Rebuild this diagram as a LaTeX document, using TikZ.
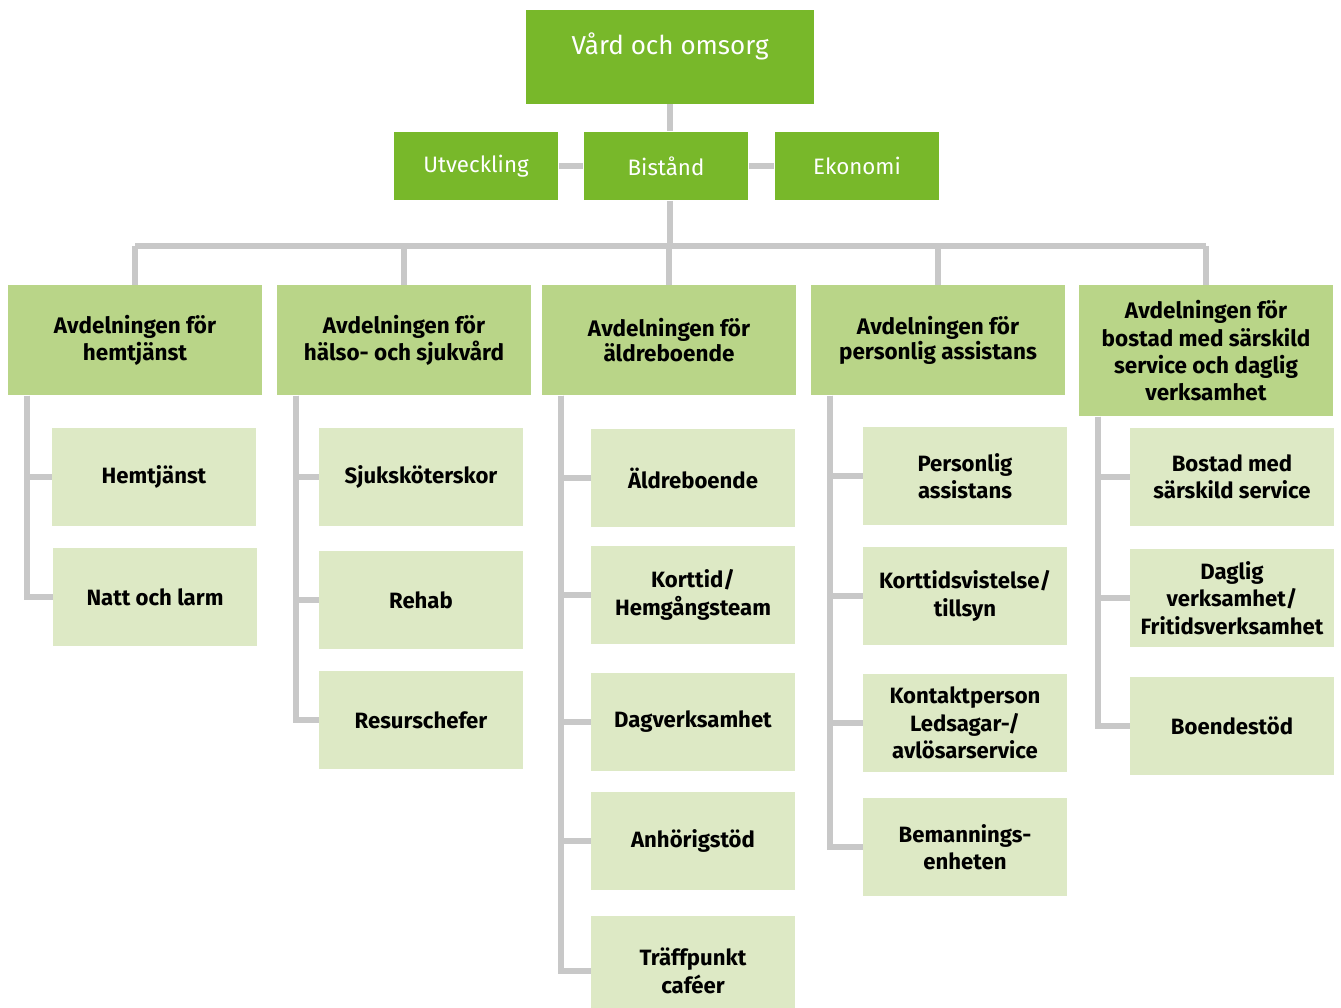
\documentclass[tikz,border=0pt]{standalone}
\usepackage{fontspec}
\setmainfont{Fira Sans}
\usetikzlibrary{positioning}
\definecolor{topgreen}{HTML}{78B82A}
\definecolor{deptgreen}{HTML}{B9D588}
\definecolor{unitgreen}{HTML}{DDE9C5}
\definecolor{linegray}{HTML}{C8C8C8}

\begin{document}
\begin{tikzpicture}[x=0.02cm,y=-0.02cm,
    head/.style={fill=topgreen,text=white,inner sep=0pt,align=center,
      minimum width=3.3cm,minimum height=1.38cm,font=\fontsize{12.7}{15}\selectfont},
    dept/.style={fill=deptgreen,inner sep=0pt,align=center,anchor=north,
      minimum width=5.1cm,minimum height=2.2cm,font=\bfseries\fontsize{12.8}{15.5}\selectfont},
    tight/.style={font=\bfseries\fontsize{12.8}{12.6}\selectfont},
    unit/.style={fill=unitgreen,inner sep=0pt,align=center,
      minimum width=4.08cm,minimum height=1.96cm,font=\bfseries\fontsize{12.6}{15.6}\selectfont},
    conn/.style={draw=linegray,line width=3.2pt}]
  \useasboundingbox (0,0) rectangle (1341,1007);
  % top levels
  \node[head,minimum width=5.76cm,minimum height=1.88cm,font=\fontsize{14.8}{15}\selectfont]
    (vard) at (670,57) {Vård och omsorg\\\mbox{}};
  \node[head] (bist) at (666,166) {Bistånd};
  \node[head] (utv) at (476,166) {Utveckling};
  \node[head] (eko) at (857,166) {Ekonomi};
  % departments
  \node[dept] (d1) at (135,285) {Avdelningen för\\hemtjänst};
  \node[dept] (d2) at (404,285) {Avdelningen för\\hälso- och sjukvård};
  \node[dept,tight] (d3) at (669,285) {Avdelningen för\\äldreboende};
  \node[dept,tight] (d4) at (938,285) {Avdelningen för\\personlig assistans};
  \node[dept,minimum height=2.62cm] (d5) at (1206,285)
    {Avdelningen för\\bostad med särskild\\service och daglig\\verksamhet};
  % units
  \node[unit] (hemtj) at (154,477) {Hemtjänst};
  \node[unit] (natt) at (155,597) {Natt och larm};
  \node[unit] (sjuk) at (421,477) {Sjuksköterskor};
  \node[unit] (rehab) at (421,600) {Rehab};
  \node[unit] (resurs) at (421,720) {Resurschefer};
  \node[unit] (aldre) at (693,478) {Äldreboende};
  \node[unit] (korttid) at (693,595) {Korttid/\\Hemgångsteam};
  \node[unit] (dagv) at (693,722) {Dagverksamhet};
  \node[unit] (anhor) at (693,841) {Anhörigstöd};
  \node[unit,minimum height=2.2cm] (traff) at (693,971) {Träffpunkt\\caféer};
  \node[unit] (perass) at (965,476) {Personlig\\assistans};
  \node[unit] (ktv) at (965,596) {Korttidsvistelse/\\tillsyn};
  \node[unit] (kontakt) at (965,723) {Kontaktperson\\Ledsagar-/\\avlösarservice};
  \node[unit] (beman) at (965,847) {Bemannings-\\enheten};
  \node[unit] (bostad) at (1232,477) {Bostad med\\särskild service};
  \node[unit] (daglig) at (1232,598) {Daglig\\verksamhet/\\Fritidsverksamhet};
  \node[unit] (boende) at (1232,726) {Boendestöd};

  % connectors
  \path[conn] (vard.south) -- (vard.south |- bist.north);
  \path[conn] (utv) -- (bist);
  \path[conn] (bist) -- (eko);
  \path[conn] (vard.south |- bist.south) -- ++(0,45) coordinate (bus);
  \path[conn] (d1.north |- bus) -- (d5.north |- bus);
  \foreach \d in {d1,d2,d3,d4,d5}
    \path[conn] (\d.north |- bus) -- (\d.north);
  \foreach \d/\u in {d1/hemtj,d1/natt,d2/sjuk,d2/rehab,d2/resurs,
      d3/aldre,d3/korttid,d3/dagv,d3/anhor,d3/traff,
      d4/perass,d4/ktv,d4/kontakt,d4/beman,d5/bostad,d5/daglig,d5/boende}
    \path[conn] ([xshift=0.4cm]\d.south west) |- (\u.west);
\end{tikzpicture}
\end{document}
